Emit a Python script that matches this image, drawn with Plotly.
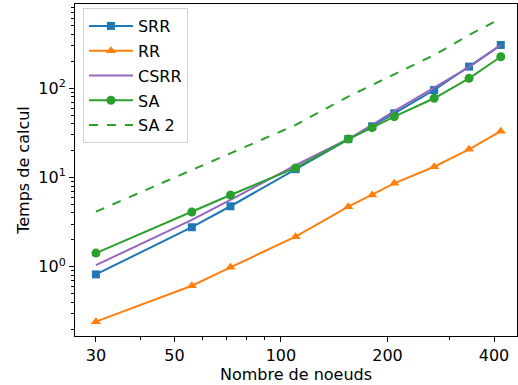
import plotly.graph_objects as go

# Data
nodes = [30, 56, 72, 110, 155, 181, 209, 271, 340, 418]
srr = [0.82, 2.77, 4.76, 12.4, 27.0, 37.5, 52.5, 95.7, 175, 306]
rr = [0.242, 0.612, 0.985, 2.17, 4.71, 6.37, 8.61, 13.2, 20.7, 33.0]
csrr = [1.04, 3.34, 5.6, 13.8, 27.0, 38.8, 55.6, 100.8, 173, 305]
sa = [1.42, 4.10, 6.37, 12.8, 27.0, 36.2, 48.1, 77.3, 129.4, 226]
sa2 = [4.14, 12.1, 18.7, 38.8, 80.8, 109, 145, 236, 396, 605]

x_ticks = [30, 50, 100, 200, 400]
x_minor = [40, 60, 70, 80, 90, 300]
y_ticks = [1, 10, 100]
y_ticktext = ["10<sup>0</sup>", "10<sup>1</sup>", "10<sup>2</sup>"]
y_minor = [m * 10 ** e for e in (-1, 0, 1, 2) for m in range(2, 10)]

BLUE, ORANGE, GREEN, PURPLE = "#1f77b4", "#ff7f0e", "#2ca02c", "#9467bd"
FONT = "DejaVu Sans"
FS = 16

fig = go.Figure()
series = [
    ("SRR", srr, BLUE, "lines+markers", dict(symbol="square", size=8), "solid"),
    ("RR", rr, ORANGE, "lines+markers", dict(symbol="triangle-up", size=9), "solid"),
    ("CSRR", csrr, PURPLE, "lines", None, "solid"),
    ("SA", sa, GREEN, "lines+markers", dict(symbol="circle", size=9), "solid"),
    ("SA 2", sa2, GREEN, "lines", None, "dash"),
]
for name, vals, col, mode, mk, dash in series:
    kw = dict(x=nodes, y=vals, name=name, mode=mode, legendgroup=name,
              line=dict(color=col, width=2, dash=dash))
    if mk:
        kw["marker"] = dict(color=col, **mk)
    fig.add_trace(go.Scatter(**kw))

axis_common = dict(
    showline=True, mirror=True, linecolor="black", linewidth=1,
    ticks="outside", ticklen=5, tickwidth=1, tickcolor="black",
    showgrid=False, zeroline=False,
    tickfont=dict(family=FONT, size=FS, color="black"),
)

fig.update_xaxes(
    type="log", range=[1.418, 2.667],
    tickmode="array", tickvals=x_ticks, ticktext=[str(v) for v in x_ticks],
    minor=dict(tickmode="array", tickvals=x_minor, ticks="outside", ticklen=3,
               tickcolor="black", tickwidth=1, showgrid=False),
    title=dict(text="Nombre de noeuds", font=dict(family=FONT, size=FS, color="black"), standoff=2),
    **axis_common,
)
fig.update_yaxes(
    type="log", range=[-0.777, 2.945],
    tickmode="array", tickvals=y_ticks, ticktext=y_ticktext,
    minor=dict(tickmode="array", tickvals=y_minor, ticks="outside", ticklen=3,
               tickcolor="black", tickwidth=1, showgrid=False),
    title=dict(text="Temps de calcul", font=dict(family=FONT, size=FS, color="black"), standoff=4),
    **axis_common,
)

fig.update_layout(
    width=518, height=385,
    margin=dict(l=75, r=1, t=4, b=49),
    plot_bgcolor="white", paper_bgcolor="white",
    font=dict(family=FONT, size=FS, color="black"),
    legend=dict(x=0.018, y=0.988, xanchor="left", yanchor="top",
                bgcolor="rgba(255,255,255,0.8)", bordercolor="#d0d0d0", borderwidth=1,
                font=dict(family=FONT, size=FS, color="black"),
                tracegroupgap=1, itemwidth=44),
    showlegend=True,
)

fig.write_html("out.html")
